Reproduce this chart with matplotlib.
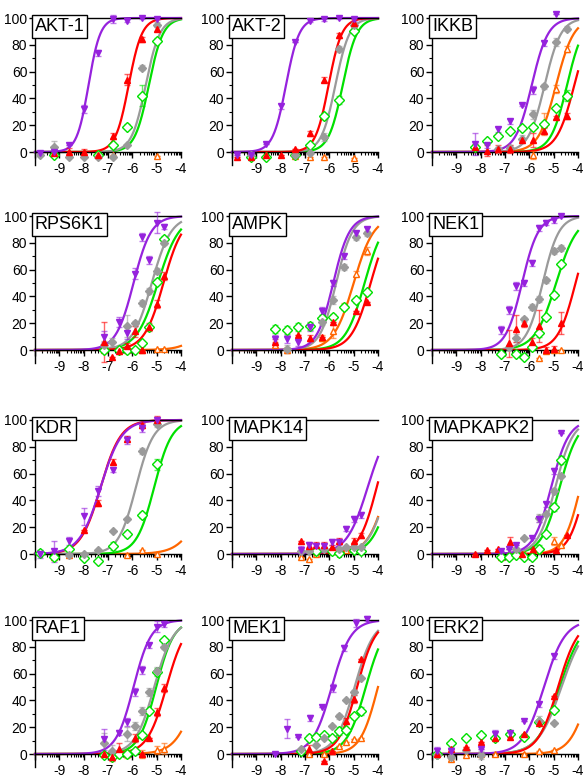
import matplotlib.pyplot as plt
import numpy as np

plt.rcParams['font.family'] = ['Liberation Sans', 'DejaVu Sans']
plt.rcParams['axes.unicode_minus'] = False

# dose grids (log M)
X4 = [-9.8, -9.2, -8.6, -8.0, -7.4, -6.8, -6.2, -5.6, -5.0]
X3 = [-8.25, -7.75, -7.3, -6.8, -6.3, -5.85, -5.4, -4.9, -4.45]
X3s = [-7.15, -6.85, -6.55, -6.2, -5.9, -5.6, -5.3, -5.0, -4.7]

N = None
panels = ["AKT-1", "AKT-2", "IKKB", "RPS6K1", "AMPK", "NEK1",
          "KDR", "MAPK14", "MAPKAPK2", "RAF1", "MEK1", "ERK2"]

# series: (grid, % inhibition, error)
AKT1 = {
    "purple": (X4, [-1, 0, 5, 32, 74, 99, 98, 100, 99], [0, 0, 0, 3, 2, 3, 1, 1, 0]),
    "red": (X4, [N, -1, 0, 0, -2, 12, 54, 84, 92], [0, 0, 3, 2, 0, 2, 4, 2, 2]),
    "gray": (X4, [-2, 4, -4, -4, -4, -4, 5, 63, 95], [0, 4, 0, 0, 0, 0, 0, 2, 2]),
    "green": (X4, [N, -2, N, N, -2, 5, 19, 42, 83], [0, 0, 0, 0, 0, 2, 2, 8, 2]),
    "orange": (X4, [N, N, N, N, N, -2, N, N, -3], [0] * 9),
}
AKT2 = {
    "purple": (X4, [-2, -2, 6, 34, 82, 98, 99, 100, 99], [0, 0, 0, 2, 0, 1, 1, 1, 1]),
    "red": (X4, [-4, -4, -2, -2, 2, 14, 54, 87, 96], [0, 0, 0, 0, 0, 2, 2, 2, 3]),
    "gray": (X4, [N, -2, N, N, -2, -1, 11, 77, 95], [0, 0, 0, 0, 0, 0, 3, 2, 2]),
    "green": (X4, [N, -4, -4, N, -2, 5, 27, 39, 90], [0, 0, 0, 0, 0, 0, 2, 3, 1]),
    "orange": (X4, [N, N, N, N, -3, -4, -4, N, -4.5], [0] * 9),
}
IKKB = {
    "purple": (X3, [6, 5, 17, 23, 35, 46, 81, 103, N], [8, 2, 2, 2, 1, 3, 2, 0, 0]),
    "gray": (X3, [N, N, 2, 3, 10, 28, 49, 82, 92], [0, 0, 2, 2, 3, 3, 2, 3, 2]),
    "orange": (X3, [N, N, N, N, N, -2, 21, 47, 77], [0, 0, 0, 0, 0, 3, 8, 3, 2]),
    "green": (X3, [4, 8, 12, 16, 18, 19, 21, 33, 42], [0, 0, 0, 0, 0, 0, 0, 0, 4]),
    "red": (X3, [4, 1, 2, 2, 9, 9, 16, 26, 27], [2, 4, 3, 3, 1, 5, 2, 1, 2]),
}
RPS6K1 = {
    "purple": (X3s, [10, N, 21, 13, 57, 84, 67, 95, 92], [4, 0, 4, 5, 4, 3, 3, 8, 2]),
    "gray": (X3s, [4, 6, N, 18, 20, 35, 44, 59, 80], [3, 3, 0, 8, 2, 2, 2, 2, 2]),
    "green": (X3s, [0, N, 0, 0, 0, 5, 17, 51, 83], [0, 0, 0, 0, 0, 2, 2, 2, 2]),
    "red": (X3s, [6, -5, -1, 3, 14, 0, 17, 34, 55], [15, 0, 2, 2, 4, 0, 3, 3, 3]),
    "orange": (X3s, [0, N, N, 0, N, 0, N, 1, 1], [0] * 9),
}
AMPK = {
    "purple": (X3, [8, 8, 6, 17, 29, 50, 70, 87, 90], [3, 3, 3, 3, 3, 2, 2, 2, 2]),
    "gray": (X3, [N, 1, N, N, 21, 37, 62, 84, 87], [0, 3, 0, 0, 2, 3, 2, 2, 2]),
    "green": (X3, [16, 15, 17, 18, 24, 25, 32, 37, 43], [3, 3, 3, 3, 2, 2, 2, 2, 2]),
    "orange": (X3, [4, 0, N, N, 9, 14, 33, 57, 74], [2, 2, 0, 0, 2, 5, 2, 2, 3]),
    "red": (X3, [6, N, 11, 9, 10, 21, N, 29, 36], [2, 0, 0, 2, 0, 0, 0, 0, 0]),
}
NEK1 = {
    "purple": (X3s, [15, 30, 48, 50, 65, 91, 95, 97, 100], [3, 3, 3, 2, 2, 2, 2, 2, 1]),
    "gray": (X3s, [N, 2, 9, 23, 32, 38, 52, 74, 76], [0, 2, 3, 2, 2, 2, 2, 2, 2]),
    "green": (X3s, [-3, N, -3, -5, 2, 13, 25, 41, 64], [0, 0, 0, 0, 0, 3, 0, 2, 2]),
    "red": (X3s, [N, 5, 16, 20, 6, 18, 0, 1, 20], [0, 10, 10, 3, 3, 12, 2, 2, 8]),
    "orange": (X3s, [N, N, N, N, N, -6, -1, 0, 0], [0] * 9),
}
KDR = {
    "purple": (X4, [0, 2, 10, 28, 47, 63, 85, 94, 100], [3, 8, 3, 6, 4, 2, 3, 3, 2]),
    "red": (X4, [N, N, N, 18, 38, 69, 86, 96, 100], [0, 0, 3, 0, 2, 2, 2, 2, 3]),
    "gray": (X4, [N, N, -1, 0, 3, 17, 26, 77, 97], [0, 0, 0, 0, 0, 0, 0, 2, 2]),
    "green": (X4, [1, -2, 4, -3, -5, 6, 15, 29, 67], [2, 0, 0, 0, 0, 3, 2, 2, 4]),
    "orange": (X4, [N, -2, -1, N, N, N, -1, 3, 0], [0] * 9),
}
MAPK14 = {
    "purple": (X3s, [3, 7, 6, 6, 9, 9, 19, 26, 29], [3, 2, 2, 2, 2, 2, 2, 2, 2]),
    "red": (X3s, [10, 6, 7, 7, 5, 10, N, 10, 14], [0, 2, 2, 2, 2, 2, 0, 2, 2]),
    "gray": (X3s, [2, 2, N, 4, N, 4, 5, 5, 5], [0] * 9),
    "green": (X3s, [N, N, 2, N, 2, 1, N, 3, 2], [0] * 9),
    "orange": (X3s, [-2, -4, 0, N, 2, N, 3, N, N], [0] * 9),
}
MAPKAPK2 = {
    "purple": (X3s, [2, 4, 7, N, 12, 26, 37, 62, 90], [0, 0, 0, 0, 0, 2, 2, 2, 0]),
    "gray": (X3s, [N, N, 4, 12, N, 27, 30, 47, 58], [0, 0, 0, 0, 0, 3, 0, 2, 0]),
    "green": (X3s, [-2, -2, -1, -2, -2, 4, 15, 35, 70], [0, 0, 0, 0, 0, 3, 0, 3, 3]),
    "red": (X3, [0, 3, 4, 9, 0, 4, N, 3, 14], [0, 0, 0, 4, 0, 0, 0, 0, 0]),
    "orange": (X3s, [-2, 0, 0, 0, N, 3, N, 10, 7], [0, 4, 0, 0, 0, 2, 0, 3, 0]),
}
RAF1 = {
    "purple": (X3s, [11, N, 16, 24, 46, 63, 81, 95, 97], [8, 0, 2, 3, 3, 3, 2, 4, 2]),
    "gray": (X3s, [8, 2, N, 15, 21, 32, 46, 62, 80], [8, 5, 0, 5, 3, 3, 3, 3, 2]),
    "green": (X3s, [-1, -2, 0, 0, 2, 14, 32, 61, 85], [0, 0, 0, 0, 0, 2, 0, 3, 0]),
    "red": (X3s, [0, -2, 4, N, 12, 0, 12, 31, 49], [0, 3, 4, 0, 3, 0, 0, 3, 3]),
    "orange": (X3s, [N, -1, N, 0, N, 0, N, 3, 4], [0, 3, 0, 3, 0, 3, 0, 3, 4]),
}
MEK1 = {
    "purple": (X3, [0, 19, 13, 27, 35, 49, 79, 98, 101], [0, 7, 0, 2, 0, 3, 2, 3, 2]),
    "gray": (X3s, [4, N, 7, 12, 21, 28, 40, 46, 57], [0, 0, 0, 0, 0, 2, 0, 2, 0]),
    "red": (X3s, [N, 4, N, -5, 2, N, 25, 41, 71], [0, 3, 0, 0, 0, 0, 2, 3, 0]),
    "green": (X3s, [2, 12, 13, 14, 12, 17, 18, 28, 32], [0, 2, 2, 0, 0, 3, 0, 2, 3]),
    "orange": (X3s, [N, 0, N, 0, 2, 6, 9, 11, 12], [0] * 9),
}
ERK2 = {
    "purple": (X4, [2, 2, N, 4, 15, 16, 25, 37, 73], [3, 3, 0, 0, 3, 2, 0, 2, 2]),
    "red": (X4, [0, 4, 5, 9, 12, 13, 15, 23, 43], [0, 0, 0, 0, 0, 0, 0, 0, 0]),
    "green": (X4, [0, 8, 12, 14, 12, 15, 13, 24, 33], [0] * 9),
    "gray": (X4, [-1, -2, 3, -1, N, N, N, 25, 23], [0, 3, 0, 3, 0, 0, 0, 3, 0]),
    "orange": (X4, [0, -4, -1, 0, 0, N, 0, 2, 3], [0] * 9),
}
DATA = [AKT1, AKT2, IKKB, RPS6K1, AMPK, NEK1, KDR, MAPK14, MAPKAPK2, RAF1, MEK1, ERK2]

# fitted curves: (logIC50, hill slope); None = no curve drawn
FITS = [
    {"purple": (-7.8, 1.8), "red": (-6.15, 1.6), "gray": (-5.45, 1.5), "green": (-5.32, 1.5), "orange": None},
    {"purple": (-7.78, 1.6), "red": (-6.03, 1.6), "gray": (-5.75, 1.5), "green": (-5.45, 1.5), "orange": None},
    {"purple": (-5.9, 1.3), "gray": (-5.37, 1.3), "orange": (-4.9, 1.2), "green": (-4.45, 1.3), "red": (-4.15, 1.2)},
    {"purple": (-5.95, 1.2), "gray": (-5.2, 1.1), "green": (-4.95, 1.0), "red": (-4.72, 1.1), "orange": (-2.5, 1.0)},
    {"purple": (-5.84, 1.3), "gray": (-5.72, 1.3), "orange": (-5.0, 1.05), "green": (-4.55, 1.1), "red": (-4.3, 1.1)},
    {"purple": (-6.3, 1.3), "gray": (-5.45, 1.3), "green": (-4.9, 1.0), "red": (-4.1, 1.2), "orange": None},
    {"purple": (-7.3, 1.0), "red": (-7.3, 1.05), "gray": (-5.85, 1.2), "green": (-5.1, 1.2), "orange": (-2.9, 0.9)},
    {"purple": (-4.42, 1.0), "red": (-4.05, 1.2), "gray": (-3.6, 1.1), "green": (-3.45, 1.1), "orange": (-3.62, 1.1)},
    {"purple": (-5.1, 1.2), "gray": (-4.93, 1.2), "green": (-4.75, 1.15), "red": (-3.7, 1.3), "orange": (-3.9, 1.3)},
    {"purple": (-5.95, 1.2), "gray": (-5.1, 1.1), "green": (-5.02, 1.2), "red": (-4.6, 1.1), "orange": (-3.3, 1.0)},
    {"purple": (-5.9, 1.1), "gray": (-4.96, 1.1), "red": (-4.86, 1.15), "green": (-4.5, 1.1), "orange": (-4.0, 1.2)},
    {"purple": (-5.4, 1.0), "red": (-4.82, 1.05), "green": (-4.75, 0.95), "gray": (-4.68, 0.9), "orange": (-3.5, 1.1)},
]

COLORS = {"purple": "#9622DD", "red": "#FF0000", "gray": "#9A9A9A",
          "green": "#00E000", "orange": "#FF6600"}
MARKERS = {
    "purple": dict(marker="v", ms=5, mfc=COLORS["purple"], mec=COLORS["purple"]),
    "red": dict(marker="^", ms=5, mfc="#FF0000", mec="#FF0000"),
    "gray": dict(marker="D", ms=4, mfc="#9A9A9A", mec="#9A9A9A"),
    "green": dict(marker="D", ms=5, mfc="white", mec="#00E000", mew=1.0),
    "orange": dict(marker="^", ms=5, mfc="white", mec="#FF6600", mew=1.0),
}
ORDER = ["orange", "green", "gray", "red", "purple"]

W, H = 584, 779
fig = plt.figure(figsize=(W / 100, H / 100), dpi=100)

col_left = [35, 232, 432]
row_top = [18, 216, 420, 620]
ax_w = 146
px_per_unit = 1.34
ymin = -10
ax_h = (100 - ymin) * px_per_unit

xs = np.linspace(-10, -4, 300)
minor = [d + np.log10(m) for d in range(-10, -4) for m in range(2, 10)]

for i, name in enumerate(panels):
    r, c = divmod(i, 3)
    ax = fig.add_axes([col_left[c] / W, 1 - (row_top[r] + ax_h) / H, ax_w / W, ax_h / H])
    for s in ORDER:
        fit = FITS[i].get(s)
        if fit is not None:
            ic, h = fit
            ax.plot(xs, 100 / (1 + 10 ** (h * (ic - xs))), color=COLORS[s], lw=1.6,
                    zorder=2, clip_on=False)
    for s in ORDER:
        x, y, e = DATA[i][s]
        x = np.array(x, dtype=float)
        y = np.array([np.nan if v is None else v for v in y], dtype=float)
        e = np.array(e, dtype=float)
        ax.errorbar(x, y, yerr=e, fmt="none", ecolor=COLORS[s], alpha=0.6,
                    elinewidth=1, capsize=2.5, capthick=1, zorder=3, clip_on=False)
        ax.plot(x, y, ls="none", zorder=4, clip_on=False, **MARKERS[s])

    ax.set_xlim(-10, -4)
    ax.set_ylim(ymin, 100)
    ax.spines["right"].set_visible(False)
    ax.spines["bottom"].set_position(("data", 0))
    ax.spines["left"].set_bounds(ymin, 100)
    for sp in ax.spines.values():
        sp.set_linewidth(1.0)
    ax.set_xticks(range(-10, -3))
    ax.set_xticklabels([""] + [str(v) for v in range(-9, -3)])
    ax.set_xticks(minor, minor=True)
    ax.set_yticks(range(0, 101, 20))
    ax.set_yticks(range(10, 100, 20), minor=True)
    ax.tick_params(axis="both", which="major", length=4, width=1, labelsize=10)
    ax.tick_params(axis="both", which="minor", length=2.5, width=0.8)
    ax.tick_params(axis="x", pad=3)
    ax.tick_params(axis="y", pad=1.5)
    ax.text(0.0, 1.0, name, transform=ax.transAxes, ha="left", va="top",
            fontsize=13, zorder=6,
            bbox=dict(boxstyle="square,pad=0.15", fc="white", ec="black", lw=1))

fig.savefig("out.png", dpi=100)
